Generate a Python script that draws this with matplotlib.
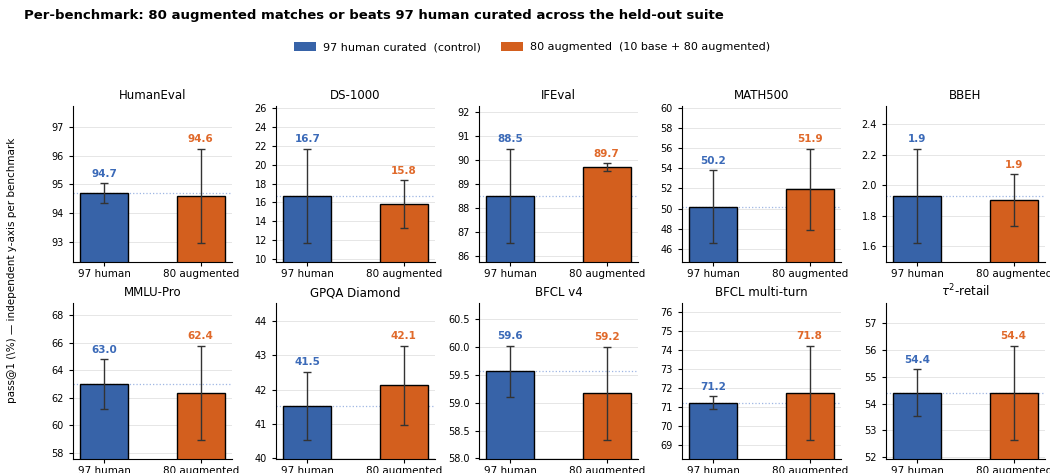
import matplotlib
matplotlib.use("Agg")
import matplotlib.pyplot as plt
from matplotlib.patches import Patch
from matplotlib.ticker import MultipleLocator
import numpy as np

benchmarks = ["HumanEval", "DS-1000", "IFEval", "MATH500", "BBEH",
              "MMLU-Pro", "GPQA Diamond", "BFCL v4", "BFCL multi-turn", r"$\tau^2$-retail"]
human_vals = [94.70, 16.70, 88.50, 50.20, 1.93, 63.01, 41.53, 59.57, 71.24, 54.40]
human_err = [0.35, 5.02, 1.97, 3.60, 0.31, 1.81, 1.00, 0.46, 0.36, 0.88]
aug_vals = [94.60, 15.83, 89.70, 51.90, 1.90, 62.37, 42.13, 59.17, 71.75, 54.40]
aug_err = [1.65, 2.55, 0.16, 4.05, 0.17, 3.44, 1.16, 0.84, 2.48, 1.77]
tick_steps = [1, 2, 1, 2, 0.2, 2, 1, 0.5, 1, 1]
xlabels = ["97 human", "80 augmented"]
legend_labels = ["97 human curated  (control)", "80 augmented  (10 base + 80 augmented)"]

BLUE = "#3763a8"
ORANGE = "#d35f1e"
BLUE_TXT = "#3b6ab8"
ORANGE_TXT = "#e0692a"

W, H = 1050, 473
fig = plt.figure(figsize=(W / 100, H / 100), dpi=100)

lefts = [73, 276, 479, 682, 886]
tops = [106, 303]
aw, ah = 159, 156

for i, name in enumerate(benchmarks):
    r, c = divmod(i, 5)
    x0 = lefts[c]
    y0 = tops[r]
    ax = fig.add_axes([x0 / W, 1 - (y0 + ah) / H, aw / W, ah / H])
    vals = [human_vals[i], aug_vals[i]]
    errs = [human_err[i], aug_err[i]]
    ax.bar([0, 1], vals, width=0.5, color=[BLUE, ORANGE], edgecolor="black",
           linewidth=1.0, zorder=2)
    ax.errorbar([0, 1], vals, yerr=errs, fmt="none", ecolor="#333333",
                elinewidth=1.0, capsize=3, capthick=1.0, zorder=3)
    lo = min(v - e for v, e in zip(vals, errs))
    hi = max(v + e for v, e in zip(vals, errs))
    rng = hi - lo
    ax.set_ylim(lo - 0.2 * rng, hi + 0.45 * rng)
    ax.yaxis.set_major_locator(MultipleLocator(tick_steps[i]))
    ax.axhline(human_vals[i], color="#9fb6e3", linestyle=":", linewidth=0.9, zorder=1)
    for xi, (v, e, col) in enumerate(zip(vals, errs, [BLUE_TXT, ORANGE_TXT])):
        ax.annotate(f"{v:.1f}", (xi, v + e), xytext=(0, 3), textcoords="offset points",
                    ha="center", va="bottom", fontsize=7.5, fontweight="bold", color=col)
    ax.set_xticks([0, 1])
    ax.set_xticklabels(xlabels, fontsize=7.5)
    ax.tick_params(axis="y", labelsize=7, length=3, width=0.8)
    ax.tick_params(axis="x", length=3, width=0.8, pad=2)
    ax.set_title(name, fontsize=8.5, pad=5)
    ax.spines["top"].set_visible(False)
    ax.spines["right"].set_visible(False)
    ax.yaxis.grid(True, color="#e6e6e6", linewidth=0.7, zorder=0)
    ax.set_axisbelow(True)

fig.text(24 / W, 1 - 16 / H, "Per-benchmark: 80 augmented matches or beats 97 human curated across the held-out suite",
         fontsize=9.5, fontweight="bold", ha="left", va="center")
fig.text(12 / W, 1 - 270 / H, "pass@1 (\\%) — independent y-axis per benchmark",
         fontsize=7.5, rotation=90, ha="center", va="center")

handles = [Patch(facecolor=BLUE, edgecolor="none"), Patch(facecolor=ORANGE, edgecolor="none")]
fig.legend(handles, legend_labels, loc="center", bbox_to_anchor=(532 / W, 1 - 47 / H),
           ncol=2, frameon=False, fontsize=8, handlelength=2.0, handleheight=0.9,
           handletextpad=0.6, columnspacing=1.8)

fig.savefig("out.png", dpi=100)
